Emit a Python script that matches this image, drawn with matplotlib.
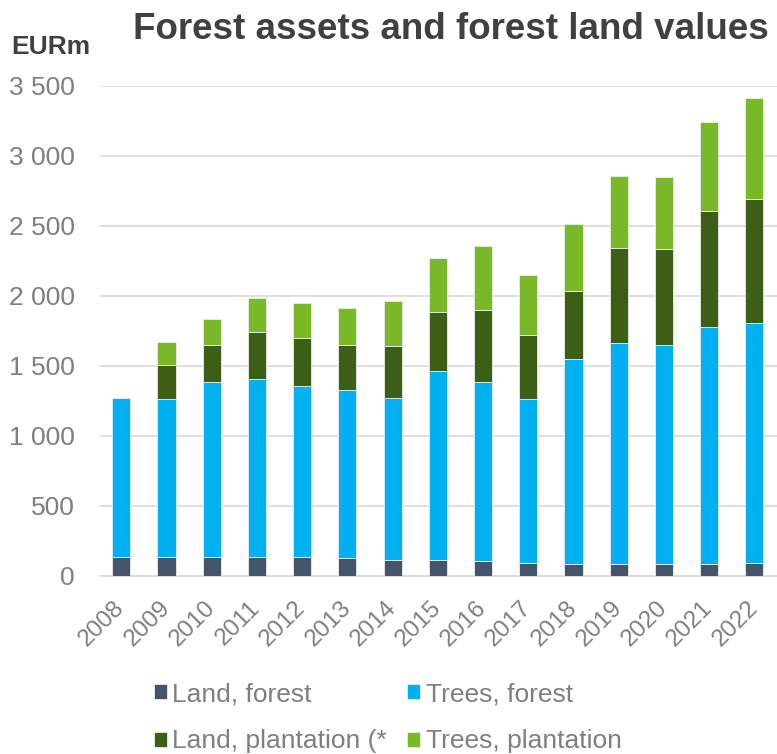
import numpy as np
import matplotlib.pyplot as plt
from matplotlib.ticker import FuncFormatter

years = [str(y) for y in range(2008, 2023)]
land_forest = [136, 136, 136, 136, 131, 129, 114, 110, 103, 93, 81, 81, 81, 81, 88]
trees_forest = [1131, 1128, 1245, 1269, 1226, 1195, 1158, 1352, 1283, 1171, 1467, 1583, 1565, 1698, 1715]
land_plantation = [0, 243, 269, 334, 339, 326, 371, 424, 514, 455, 483, 679, 688, 824, 890]
trees_plantation = [0, 162, 186, 242, 254, 264, 319, 386, 453, 429, 481, 517, 516, 636, 724]

series = [
    ("Land, forest", land_forest, "#44546A"),
    ("Trees, forest", trees_forest, "#00B0F0"),
    ("Land, plantation (*", land_plantation, "#3D5E15"),
    ("Trees, plantation", trees_plantation, "#79B928"),
]

plt.rcParams['font.family'] = ['Liberation Sans', 'DejaVu Sans']

fig = plt.figure(figsize=(7.77, 7.54), dpi=100)
ax = fig.add_axes([0.1287, 0.2365, 0.8713, 0.6495])

x = np.arange(len(years))
bottom = np.zeros(len(years))
bars = {}
for label, vals, color in series:
    vals = np.array(vals, dtype=float)
    bars[label] = ax.bar(x, vals, width=0.4, bottom=bottom, color=color,
                         edgecolor='#E8EEF0', linewidth=0.6, label=label, zorder=3)
    bottom += vals

ax.set_xlim(-0.47, 14.5)
ax.set_ylim(0, 3500)
ax.set_yticks(np.arange(0, 3501, 500))
ax.yaxis.set_major_formatter(FuncFormatter(lambda v, p: f"{int(v):,}".replace(",", " ")))
ax.set_xticks(x)
ax.set_xticklabels(years, rotation=45, ha='right', va='center', rotation_mode='anchor')

ax.grid(axis='y', color='#D9D9D9', linewidth=1.2, zorder=0)
for s in ['top', 'right', 'left']:
    ax.spines[s].set_visible(False)
ax.spines['bottom'].set_color('#D9D9D9')
ax.spines['bottom'].set_linewidth(1.2)
ax.tick_params(axis='both', length=0, colors='#7F7F7F')
ax.tick_params(axis='y', pad=18, labelsize=19)
ax.tick_params(axis='x', pad=21, labelsize=17.5)

fig.text(0.171, 0.961, "Forest assets and forest land values", fontsize=26.5,
         fontweight='bold', color='#404040', va='center', ha='left')
fig.text(0.015, 0.938, "EURm", fontsize=19, fontweight='bold', color='#404040',
         va='center', ha='left')

# row-wise legend: matplotlib fills columns first
order = ["Land, forest", "Land, plantation (*", "Trees, forest", "Trees, plantation"]
fig.legend(handles=[bars[k] for k in order], labels=order, ncol=2,
           loc='center', bbox_to_anchor=(0.499, 0.048), frameon=False,
           fontsize=19, labelcolor='#7F7F7F', handlelength=0.5, handleheight=0.5,
           handletextpad=0.2, columnspacing=0.75, labelspacing=0.88)

fig.savefig("out.png", dpi=100)
